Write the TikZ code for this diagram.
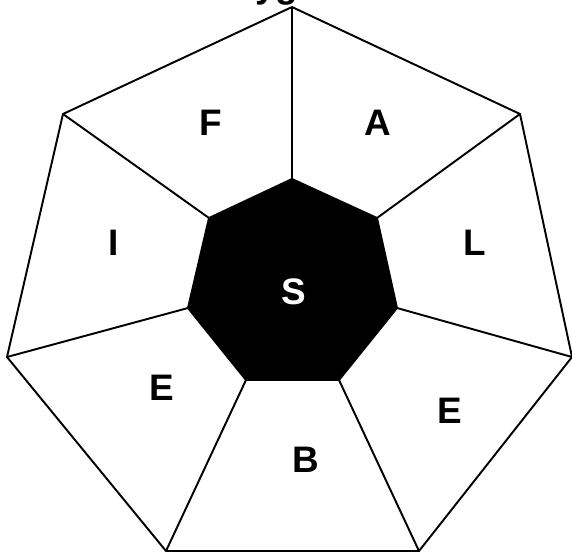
\documentclass[tikz,border=0pt]{standalone}
\usepackage{fontspec}
\setmainfont{Liberation Sans}
\tikzset{
  edge/.style={line width=1.1pt, line join=miter},
  letter/.style={font=\fontsize{21}{25}\selectfont\bfseries, inner sep=0pt}
}
\begin{document}
\begin{tikzpicture}[x=0.02cm, y=-0.02cm]
\useasboundingbox (0,0) rectangle (572,555);
% outer heptagon
\coordinate (otop) at (292,7);
\coordinate (oupright) at (520,114);
\coordinate (oright) at (572,357);
\coordinate (olowright) at (419,551);
\coordinate (olowleft) at (166,551);
\coordinate (oleft) at (7,357);
\coordinate (oupleft) at (63,114);
% inner heptagon
\coordinate (itop) at (292,179);
\coordinate (iupright) at (377,218);
\coordinate (iright) at (397,308);
\coordinate (ilowright) at (339,380);
\coordinate (ilowleft) at (246,380);
\coordinate (ileft) at (188,308);
\coordinate (iupleft) at (209,218);
\draw[edge] (otop) -- (oupright) -- (oright) -- (olowright) -- (olowleft) -- (oleft) -- (oupleft) -- cycle;
\draw[edge, fill=black] (itop) -- (iupright) -- (iright) -- (ilowright) -- (ilowleft) -- (ileft) -- (iupleft) -- cycle;
% spokes
\draw[edge] (itop) -- (otop);
\draw[edge] (iupright) -- (oupright);
\draw[edge] (iright) -- (oright);
\draw[edge] (ilowright) -- (olowright);
\draw[edge] (ilowleft) -- (olowleft);
\draw[edge] (ileft) -- (oleft);
\draw[edge] (iupleft) -- (oupleft);
% labels
\node[letter, anchor=base] (title) at (277,-3) {yg};
\node[letter] (f) at (211,123) {F};
\node[letter] (a) at (378,123) {A};
\node[letter] (i) at (114,243) {I};
\node[letter] (l) at (475,243) {L};
\node[letter, text=white] (s) at (294,292) {S};
\node[letter] (e1) at (162,388) {E};
\node[letter] (e2) at (450,411) {E};
\node[letter] (b) at (306,460) {B};
\end{tikzpicture}
\end{document}
